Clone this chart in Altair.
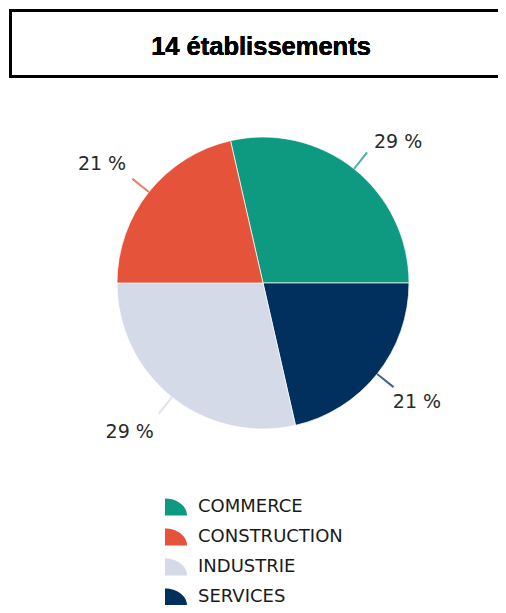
import math
import altair as alt
import pandas as pd

# ---- data (clockwise order from the start angle) ----
categories = ["COMMERCE", "SERVICES", "INDUSTRIE", "CONSTRUCTION"]
counts = [4, 3, 4, 3]
order = [1, 2, 3, 4]
title_text = "14 établissements"

legend_domain = ["COMMERCE", "CONSTRUCTION", "INDUSTRIE", "SERVICES"]
legend_colors = ["#0e9a80", "#e5533b", "#d5dae8", "#02305e"]

df = pd.DataFrame({"cat": categories, "count": counts, "order": order})
total = sum(counts)

START_DEG = -12.86
a0 = math.radians(START_DEG)
theta_scale = alt.Scale(domain=[0, total], range=[a0, a0 + 2 * math.pi], nice=False)

CX, CY = 255, 275
R = 146

wedge_path = "M-1,-0.77L-1,0.77L1,0.77A2,1.54 0 0,0 -1,-0.77Z"

color_enc = alt.Color(
    "cat:N",
    scale=alt.Scale(domain=legend_domain, range=legend_colors),
    legend=alt.Legend(
        title=None,
        orient="none",
        legendX=157,
        legendY=488,
        symbolType=wedge_path,
        symbolSize=484,
        symbolStrokeWidth=0,
        labelFont="DejaVu Sans",
        labelFontSize=18,
        labelColor="#1a1a1a",
        labelOffset=11,
        rowPadding=10,
        padding=0,
    ),
)

base = (
    alt.Chart(df)
    .transform_joinaggregate(total="sum(count)")
    .transform_window(cum="sum(count)", sort=[alt.SortField("order")], frame=[None, 0])
    .transform_calculate(
        start="datum.cum - datum.count",
        mid="datum.cum - datum.count / 2",
        lo="datum.cum - datum.count / 2 - 0.014",
        hi="datum.cum - datum.count / 2 + 0.014",
        label="format(datum.count / datum.total * 100, '.0f') + ' %'",
    )
)

# title box (right side runs off the page, as in the reference)
box = alt.Chart(df).mark_rect(filled=False, stroke="black", strokeWidth=3).encode(
    x=alt.value(2.5), x2=alt.value(530), y=alt.value(2.5), y2=alt.value(68.5)
)
title = alt.Chart(df).mark_text(
    text=title_text,
    font="Liberation Sans",
    fontWeight="bold",
    fontSize=25.5,
    color="black",
    align="center",
    baseline="alphabetic",
).encode(x=alt.value(253), y=alt.value(47))

pie = base.mark_arc(radius=R, stroke="white", strokeWidth=1, strokeOpacity=0.7).encode(
    theta=alt.Theta("start:Q", scale=theta_scale),
    theta2=alt.Theta2("cum:Q"),
    color=color_enc,
    x=alt.value(CX),
    y=alt.value(CY),
)

ticks = base.mark_arc(radius=167, innerRadius=R, opacity=0.75).encode(
    theta=alt.Theta("lo:Q", scale=theta_scale),
    theta2=alt.Theta2("hi:Q"),
    color=color_enc,
    x=alt.value(CX),
    y=alt.value(CY),
)

label_specs = [
    ("COMMERCE", "left", 178, 0, -2),
    ("SERVICES", "left", 175, -7, 10),
    ("INDUSTRIE", "right", 175, 0, 12),
    ("CONSTRUCTION", "right", 175, 0, -10),
]
labels = []
for cat, align, rad, dx, dy in label_specs:
    labels.append(
        base.transform_filter(alt.datum.cat == cat)
        .mark_text(
            radius=rad,
            align=align,
            baseline="middle",
            dx=dx,
            dy=dy,
            font="DejaVu Sans",
            fontSize=19,
            color="#2a2a2a",
        )
        .encode(
            theta=alt.Theta("mid:Q", scale=theta_scale),
            text="label:N",
            x=alt.value(CX),
            y=alt.value(CY),
        )
    )

chart = (
    alt.layer(box, title, pie, ticks, *labels)
    .properties(width=490, height=597, autosize="none", padding=0)
    .configure_view(strokeWidth=0)
)

chart.save("out.html", embed_options={"renderer": "svg", "actions": False})
